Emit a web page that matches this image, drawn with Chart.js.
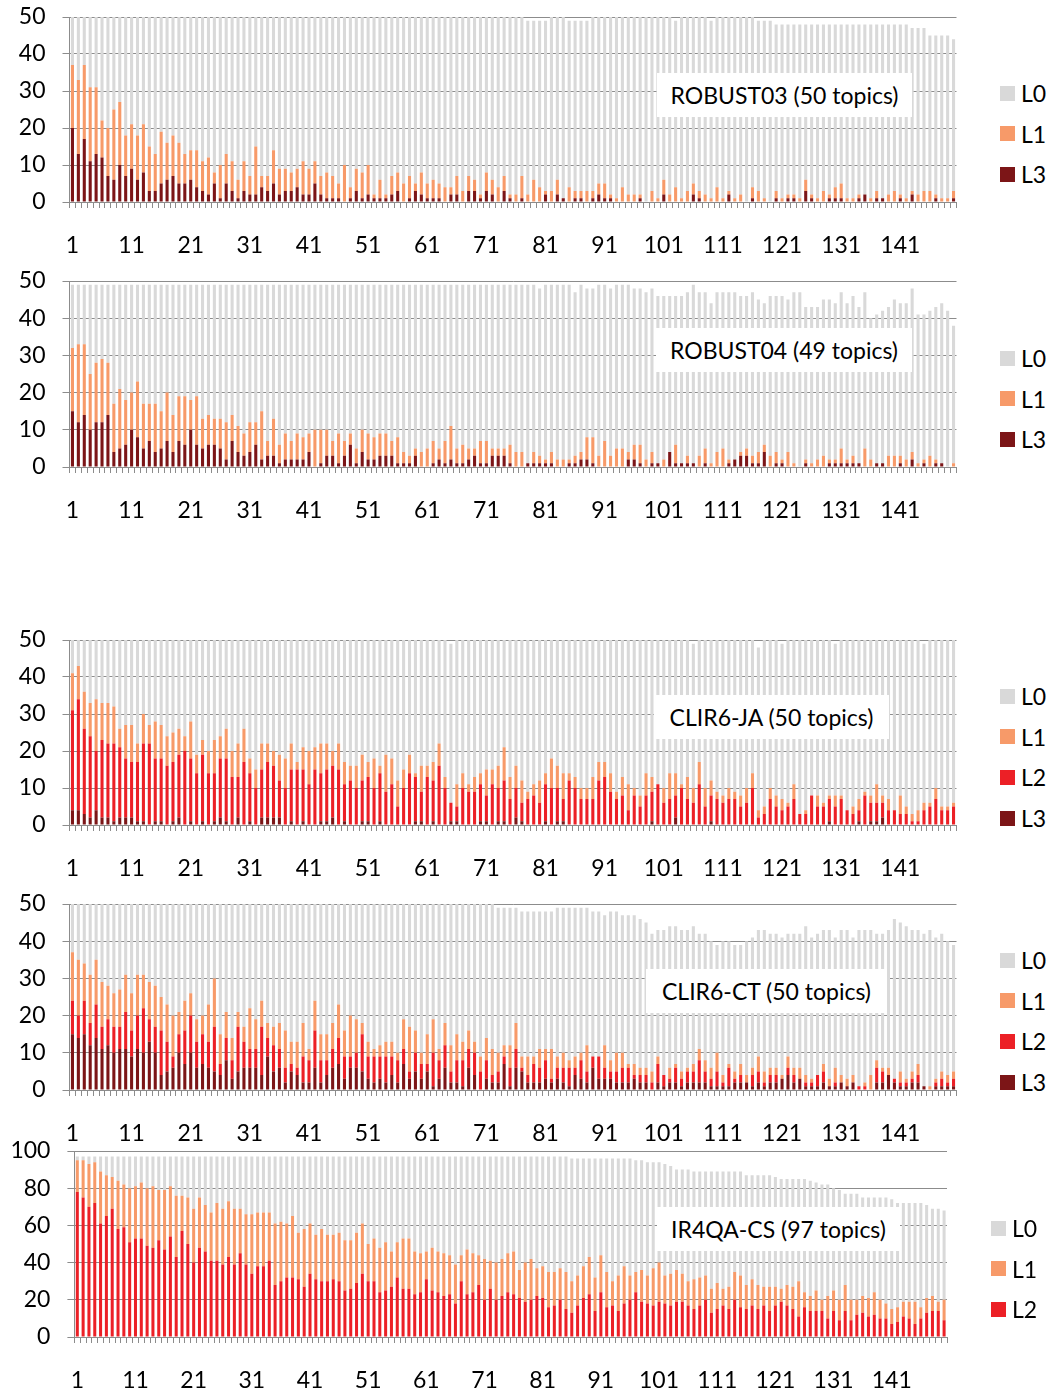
<!DOCTYPE html>
<html>
<head>
<meta charset="utf-8">
<script src="https://cdn.jsdelivr.net/npm/chart.js@4.4.0/dist/chart.umd.min.js"></script>
<style>
  body { margin: 0; background: #fff; font-family: Lato, sans-serif; }
  #page { position: relative; width: 1050px; height: 1394px; overflow: hidden; background: #fff; }
  canvas { position: absolute; left: 0; }
  .title { position: absolute; background: #fff; color: #000; font-size: 23px; text-align: center; white-space: nowrap; }
  .sw { position: absolute; width: 15px; height: 15px; }
  .lt { position: absolute; font-size: 23px; color: #000; line-height: 24px; }
</style>
</head>
<body>
<div id="page"></div>
<script>
// rank of the retrieved document (x categories)
const ranks = Array.from({ length: 150 }, (_, i) => String(i + 1));

// ROBUST03
const r03Tot = [
  50,50,50,50,50,50,50,50,50,50, 50,50,50,50,50,50,50,50,50,50,
  50,50,50,50,50,50,50,50,50,50, 50,50,50,50,50,50,50,50,50,50,
  50,50,50,50,50,50,50,50,50,50, 50,50,50,50,50,50,50,50,50,50,
  50,50,50,50,50,50,50,50,50,50, 50,50,50,50,50,50,50,49,49,49,
  49,50,50,50,49,49,49,49,50,50, 50,50,50,50,50,50,50,50,50,50,
  50,50,49,50,50,50,50,50,49,50, 50,50,50,50,50,50,49,49,49,48,
  48,48,48,48,48,48,48,48,48,48, 48,48,48,48,48,48,48,48,48,48,
  48,48,47,47,47,45,45,45,45,44];
const r03L3 = [
  20,13,17,11,13,12,7,6,10,7, 9,6,8,3,3,5,6,7,5,5,
  6,4,3,2,5,1,5,3,1,3, 2,2,4,3,5,2,3,3,4,2,
  2,5,2,1,1,1,0,1,3,1, 2,1,1,1,2,3,0,1,3,2,
  1,1,1,0,2,2,0,3,3,1, 3,2,0,3,1,0,1,0,0,0,
  2,0,2,1,0,1,1,0,1,2, 1,1,0,0,0,0,1,0,0,0,
  2,0,0,0,0,2,1,0,0,0, 0,2,0,0,0,1,0,0,0,1,
  0,1,1,0,3,1,0,0,1,1, 1,0,0,1,2,0,1,1,0,0,
  1,0,2,0,0,0,1,0,0,1];
const r03L1 = [
  17,20,20,20,18,10,13,19,17,11, 12,12,13,12,10,14,10,11,11,8,
  8,10,8,10,3,9,8,8,5,8, 5,13,3,4,9,7,6,5,5,9,
  7,6,5,7,6,4,10,3,6,7, 8,1,5,1,5,5,5,6,2,6,
  4,5,4,4,2,5,3,4,3,1, 5,4,4,4,1,2,6,2,6,4,
  1,3,4,0,4,2,2,3,2,3, 4,1,1,4,2,2,1,0,3,1,
  4,2,4,1,3,3,2,2,1,4, 1,1,1,2,0,3,3,1,0,2,
  1,1,1,1,3,1,1,3,1,3, 4,1,1,1,0,1,2,0,2,3,
  1,1,1,2,3,3,1,1,1,2];

// ROBUST04
const r04Tot = [
  49,49,49,49,49,49,49,49,49,49, 49,49,49,49,49,49,49,49,49,49,
  49,49,49,49,49,49,49,49,49,49, 49,49,49,49,49,49,49,49,49,49,
  49,49,49,49,49,49,49,49,49,49, 49,49,49,49,49,49,49,49,49,49,
  49,49,49,49,49,49,49,49,49,49, 49,49,49,49,49,49,49,49,49,48,
  49,49,49,49,49,47,49,48,48,49, 49,48,49,49,49,48,48,47,48,46,
  46,46,46,46,47,49,47,47,44,47, 47,47,47,46,46,47,45,44,46,46,
  46,45,47,47,43,43,43,45,45,44, 47,44,46,43,47,40,41,42,43,45,
  44,44,48,41,41,42,43,44,42,38];
const r04L3 = [
  15,12,14,10,12,12,14,4,5,6, 10,8,5,7,4,5,7,4,7,6,
  10,6,5,6,6,5,2,7,4,3, 4,6,2,3,3,1,2,2,2,2,
  4,0,1,3,3,1,3,6,1,4, 2,2,3,3,3,1,1,1,3,0,
  0,1,2,1,2,1,1,2,3,1, 1,3,3,3,1,0,0,1,1,1,
  1,1,0,0,1,1,2,2,1,0, 0,0,0,0,2,2,1,0,1,1,
  0,4,1,1,1,1,0,1,0,0, 0,1,2,3,3,1,1,4,0,1,
  1,0,0,0,1,0,0,0,1,1, 1,1,1,1,0,0,1,1,0,0,
  1,0,2,0,1,0,1,1,0,0];
const r04L1 = [
  17,21,19,15,16,17,14,13,16,12, 10,15,12,10,13,10,13,10,12,13,
  8,13,8,8,7,8,10,7,7,6, 8,6,13,4,10,5,7,5,7,6,
  5,10,9,7,4,8,4,3,4,6, 7,6,6,6,4,7,3,2,2,4,
  5,6,3,6,9,4,5,3,2,6, 6,2,2,2,5,4,4,0,3,2,
  1,3,2,2,1,2,2,6,7,3, 7,3,5,5,2,4,5,2,3,0,
  2,0,5,0,2,0,3,4,1,4, 5,1,0,1,2,2,3,2,3,3,
  1,4,1,0,1,1,2,3,1,1, 4,1,2,0,5,2,0,0,3,3,
  2,2,2,1,1,3,1,0,0,1];

// CLIR6-JA
const jaTot = [
  50,50,50,50,50,50,50,50,50,50, 50,50,50,50,50,50,50,50,50,50,
  50,50,50,50,50,50,50,50,50,50, 50,50,50,50,50,50,50,50,50,50,
  50,50,50,50,50,50,50,50,50,50, 50,50,50,50,50,50,50,50,50,50,
  50,50,50,50,49,50,50,50,50,50, 50,50,50,50,50,50,50,50,50,50,
  50,50,50,50,50,50,50,50,50,50, 50,50,50,50,50,50,50,50,50,50,
  50,50,50,50,50,49,50,50,50,50, 50,50,50,50,50,50,48,50,50,50,
  49,50,50,50,50,50,50,50,50,49, 50,50,50,50,50,50,50,50,50,50,
  50,50,50,50,49,50,50,50,50,50];
const jaL3 = [
  4,4,3,2,4,2,2,1,2,2, 2,1,1,0,1,1,0,1,2,0,
  1,0,1,0,1,2,1,0,2,0, 1,0,2,2,2,2,0,1,0,1,
  0,0,1,1,2,0,1,0,0,1, 1,0,1,0,0,0,0,0,1,1,
  0,1,0,0,1,1,0,0,0,1, 1,0,1,1,0,2,1,0,0,0,
  1,0,1,1,0,0,0,0,0,0, 0,0,0,0,0,0,0,0,1,0,
  0,0,2,0,0,0,0,0,1,0, 0,0,0,0,0,0,0,0,0,0,
  0,0,0,0,0,0,0,0,1,0, 0,0,0,1,0,1,1,2,0,0,
  0,0,0,0,0,0,0,0,0,0];
const jaL2 = [
  27,30,23,22,16,21,20,21,19,16, 15,16,21,22,17,17,16,16,17,20,
  17,14,18,14,13,16,17,13,11,17, 13,10,13,15,14,10,10,14,15,14,
  11,15,13,14,14,15,10,12,10,11, 12,10,13,9,11,5,10,14,12,8,
  13,11,16,10,5,4,10,9,9,10, 7,11,9,11,7,8,5,7,8,6,
  10,10,9,6,12,10,7,7,7,12, 13,9,7,8,4,8,5,8,8,11,
  6,7,6,10,7,6,11,5,7,7, 6,7,7,5,6,10,2,3,7,5,
  4,5,7,3,3,8,5,5,6,5, 7,4,3,3,8,5,5,4,4,4,
  3,3,1,1,4,5,7,4,4,5];
const jaL1 = [
  10,9,10,9,14,10,11,10,5,9, 10,5,8,5,10,9,8,8,7,4,
  10,5,4,6,9,6,8,7,9,9, 4,5,7,5,4,7,8,7,2,6,
  9,6,8,7,4,7,6,4,6,7, 4,8,2,10,7,7,5,5,1,7,
  3,5,6,3,0,6,4,2,4,3, 7,4,6,9,6,6,6,2,3,6,
  3,8,6,7,2,3,3,3,6,5, 4,5,2,5,7,2,3,6,4,0,
  4,7,6,1,6,4,6,5,4,2, 2,3,2,3,4,4,2,2,3,3,
  3,1,4,0,1,0,3,1,1,3, 1,0,2,3,1,2,5,2,3,0,
  5,2,2,3,2,1,3,1,1,1];

// CLIR6-CT
const ctTot = [
  50,50,50,50,50,50,50,50,50,50, 50,50,50,50,50,50,50,50,50,50,
  50,50,50,50,50,50,50,50,50,50, 50,50,50,50,50,50,50,50,50,50,
  50,50,50,50,50,50,50,50,50,50, 50,50,50,50,50,50,50,50,50,50,
  50,50,50,50,50,50,50,50,50,50, 50,50,49,49,49,49,48,48,48,48,
  48,48,49,49,49,49,49,49,48,48, 47,48,48,47,47,47,46,45,42,43,
  43,44,44,43,43,44,42,42,40,39, 40,40,39,39,40,41,43,43,42,42,
  41,42,42,42,44,41,42,43,43,41, 43,43,41,43,43,43,42,42,43,46,
  45,44,43,43,42,43,41,42,40,39];
const ctL3 = [
  15,14,15,12,14,11,12,10,11,11, 9,11,10,13,10,4,5,6,10,7,
  10,6,7,6,5,4,8,3,5,6, 6,6,4,9,5,6,2,5,4,2,
  2,6,2,4,6,7,3,6,6,5, 3,2,3,2,4,2,7,3,5,3,
  5,1,3,6,2,2,1,6,4,0, 3,2,2,7,1,6,5,2,2,2,
  3,2,3,2,1,4,3,2,6,3, 3,3,2,2,2,3,2,2,0,2,
  1,2,2,1,2,2,2,2,1,1, 1,1,2,2,2,1,2,1,2,2,
  3,4,2,3,1,1,1,2,1,1, 2,1,2,0,0,0,2,2,4,2,
  1,1,2,2,1,0,1,1,1,1];
const ctL2 = [
  9,6,9,6,9,6,7,7,6,10, 7,9,12,6,7,12,8,3,5,9,
  10,7,8,7,12,3,6,5,12,7, 5,5,13,5,7,5,4,2,2,7,
  6,10,6,4,5,7,6,3,4,10, 6,7,6,7,5,6,4,2,5,4,
  2,9,5,6,3,6,7,5,6,5, 5,2,3,2,5,5,1,2,5,4,
  5,1,3,4,5,2,5,3,3,6, 3,2,3,4,4,1,2,2,2,5,
  3,1,4,2,3,3,6,3,2,4, 1,5,1,2,0,3,3,1,2,2,
  0,2,2,0,1,1,3,3,0,1, 0,0,0,1,1,0,4,3,0,1,
  1,1,1,2,0,0,1,2,1,2];
const ctL1 = [
  13,15,10,13,12,12,9,9,10,10, 10,11,9,10,11,9,10,11,6,8,
  6,6,5,10,13,8,7,6,4,4, 11,8,7,4,5,7,10,6,7,9,
  3,8,7,7,7,9,7,11,9,3, 4,2,3,4,4,2,8,12,6,3,
  8,9,3,6,7,7,5,5,3,4, 6,7,5,3,6,7,3,5,2,5,
  3,8,3,4,2,3,2,7,0,0, 6,3,5,4,1,3,2,2,3,2,
  0,3,1,2,1,2,3,3,3,5, 2,1,2,3,2,2,4,3,2,2,
  1,3,2,3,2,1,0,2,2,4, 2,2,2,0,1,4,2,1,2,0,
  3,1,2,3,0,1,1,2,2,2];

// IR4QA-CS
const csTot = [
  97,97,97,97,97,97,97,97,97,97, 97,97,97,97,97,97,97,97,97,97,
  97,97,97,97,97,97,97,97,97,97, 97,97,97,97,97,97,97,97,97,97,
  97,97,97,97,97,97,97,97,97,97, 97,97,97,97,97,97,97,97,97,97,
  97,97,97,97,97,97,97,97,97,97, 97,97,97,97,97,97,97,97,97,97,
  97,97,97,97,97,96,96,96,96,96, 96,96,96,96,96,96,95,95,94,94,
  94,93,92,90,90,90,89,89,89,89, 89,89,89,89,89,87,87,87,87,87,
  86,85,85,85,85,85,84,83,82,82, 80,79,77,77,77,75,75,75,75,75,
  74,72,72,72,72,72,71,69,69,68];
const csL2 = [
  78,75,70,72,61,65,69,58,59,51, 53,53,49,48,52,47,54,43,57,50,
  40,48,46,41,41,39,43,39,45,39, 34,38,38,41,28,30,32,32,31,27,
  34,31,30,30,31,30,25,26,29,34, 30,30,24,25,27,32,26,26,23,24,
  31,25,24,22,23,18,30,23,24,28, 20,26,20,22,24,23,21,19,20,22,
  21,16,17,20,15,13,17,21,23,14, 24,16,17,14,18,20,24,19,18,17,
  19,18,17,19,19,17,15,17,20,13, 15,17,15,20,16,15,17,15,17,14,
  17,19,17,15,11,16,14,14,14,10, 14,9,14,9,12,13,11,12,10,10,
  7,8,11,10,7,10,13,14,14,9];
const csL1 = [
  17,20,23,22,28,22,17,26,23,29, 28,30,31,33,27,32,27,33,19,25,
  29,27,25,26,31,30,30,30,24,27, 32,29,29,26,33,32,29,33,25,31,
  27,24,28,25,24,26,27,26,27,27, 20,23,24,26,19,19,27,27,23,21,
  15,23,22,23,21,21,14,24,21,16, 22,15,20,20,21,23,15,21,22,15,
  17,19,18,17,20,17,16,17,20,18, 20,19,13,19,20,13,11,17,15,20,
  21,15,17,17,15,13,16,15,13,13, 14,9,12,15,17,13,14,13,10,13,
  10,7,11,12,19,8,8,11,6,12, 11,11,14,11,8,9,10,12,10,8,
  8,8,8,9,12,6,8,8,5,11];

const colors = { L0: '#d9d9d9', L1: '#f79a69', L2: '#ec2026', L3: '#7c1517' };
const gridColor = '#8c8c8c';
const W = 985;

// L0 = topics still ranked at this position minus the relevant ones
function rest(tot, parts) {
  return tot.map((t, i) => t - parts.reduce((a, p) => a + p[i], 0));
}

const page = document.getElementById('page');
Chart.defaults.font.family = 'Lato, sans-serif';
Chart.defaults.font.size = 23;
Chart.defaults.color = '#000';

function addPanel(p) {
  const plotH = p.y0 - p.yTop;
  const axisH = 56;
  const canvas = document.createElement('canvas');
  canvas.width = W;
  canvas.height = 17 + plotH + axisH;
  canvas.style.top = (p.yTop - 17) + 'px';
  page.appendChild(canvas);

  new Chart(canvas.getContext('2d'), {
    type: 'bar',
    data: {
      labels: ranks,
      datasets: p.sets.map(s => ({
        label: s.label,
        data: s.data,
        backgroundColor: colors[s.label],
        borderWidth: 0,
        barPercentage: 0.52,
        categoryPercentage: 1
      }))
    },
    options: {
      responsive: false,
      animation: false,
      layout: { padding: { left: 0, top: 17, right: W - p.right, bottom: 0 } },
      plugins: { legend: { display: false }, tooltip: { enabled: false } },
      scales: {
        x: {
          stacked: true,
          offset: true,
          grid: { offset: true, drawOnChartArea: false, drawTicks: true, tickLength: 6, color: gridColor },
          border: { display: true, color: gridColor },
          ticks: {
            autoSkip: false, maxRotation: 0, minRotation: 0, padding: 24,
            callback: (v, i) => (i % 10 === 0 ? ranks[i] : '')
          },
          afterFit: s => { s.height = axisH; s.paddingLeft = 0; s.paddingRight = 0; }
        },
        y: {
          stacked: true,
          min: 0,
          max: p.max,
          ticks: { stepSize: p.step, padding: 17 },
          grid: { color: gridColor, tickLength: 7 },
          border: { display: true, color: gridColor },
          afterFit: s => { s.width = p.left; s.paddingTop = 0; s.paddingBottom = 0; }
        }
      }
    }
  });

  const t = document.createElement('div');
  t.className = 'title';
  t.textContent = p.title;
  t.style.left = p.box[0] + 'px';
  t.style.top = p.box[1] + 'px';
  t.style.width = p.box[2] + 'px';
  t.style.height = p.box[3] + 'px';
  t.style.lineHeight = p.box[3] + 'px';
  page.appendChild(t);

  p.legend.forEach((name, i) => {
    const cy = p.legY + i * 40.7;
    const sw = document.createElement('div');
    sw.className = 'sw';
    sw.style.left = p.legX + 'px';
    sw.style.top = (cy - 7.5) + 'px';
    sw.style.background = colors[name];
    page.appendChild(sw);
    const lt = document.createElement('div');
    lt.className = 'lt';
    lt.textContent = name;
    lt.style.left = (p.legX + 21) + 'px';
    lt.style.top = (cy - 12) + 'px';
    page.appendChild(lt);
  });
}

addPanel({
  title: 'ROBUST03 (50 topics)', yTop: 17, y0: 202, left: 69.5, right: 956.5, max: 50, step: 10,
  box: [657, 73, 255, 44], legX: 1000, legY: 93, legend: ['L0', 'L1', 'L3'],
  sets: [
    { label: 'L3', data: r03L3 },
    { label: 'L1', data: r03L1 },
    { label: 'L0', data: rest(r03Tot, [r03L3, r03L1]) }
  ]
});
addPanel({
  title: 'ROBUST04 (49 topics)', yTop: 281, y0: 467, left: 69.5, right: 956.5, max: 50, step: 10,
  box: [656, 328, 256, 44], legX: 1000, legY: 358, legend: ['L0', 'L1', 'L3'],
  sets: [
    { label: 'L3', data: r04L3 },
    { label: 'L1', data: r04L1 },
    { label: 'L0', data: rest(r04Tot, [r04L3, r04L1]) }
  ]
});
addPanel({
  title: 'CLIR6-JA (50 topics)', yTop: 640, y0: 825, left: 69.5, right: 956.5, max: 50, step: 10,
  box: [654, 695, 235, 44], legX: 1000, legY: 696, legend: ['L0', 'L1', 'L2', 'L3'],
  sets: [
    { label: 'L3', data: jaL3 },
    { label: 'L2', data: jaL2 },
    { label: 'L1', data: jaL1 },
    { label: 'L0', data: rest(jaTot, [jaL3, jaL2, jaL1]) }
  ]
});
addPanel({
  title: 'CLIR6-CT (50 topics)', yTop: 904, y0: 1090, left: 69.5, right: 956.5, max: 50, step: 10,
  box: [646, 969, 241, 44], legX: 1000, legY: 960, legend: ['L0', 'L1', 'L2', 'L3'],
  sets: [
    { label: 'L3', data: ctL3 },
    { label: 'L2', data: ctL2 },
    { label: 'L1', data: ctL1 },
    { label: 'L0', data: rest(ctTot, [ctL3, ctL2, ctL1]) }
  ]
});
addPanel({
  title: 'IR4QA-CS (97 topics)', yTop: 1151, y0: 1337, left: 74.4, right: 947, max: 100, step: 20,
  box: [657, 1207, 243, 44], legX: 991, legY: 1228, legend: ['L0', 'L1', 'L2'],
  sets: [
    { label: 'L2', data: csL2 },
    { label: 'L1', data: csL1 },
    { label: 'L0', data: rest(csTot, [csL2, csL1]) }
  ]
});
</script>
</body>
</html>
